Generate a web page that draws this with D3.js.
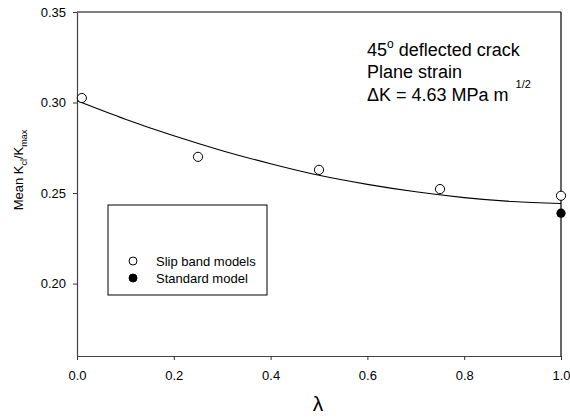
<!DOCTYPE html>
<html>
<head>
<meta charset="utf-8">
<script src="https://cdn.jsdelivr.net/npm/d3@7"></script>
<style>
  body { margin: 0; background: #fff; }
  text { font-family: "Liberation Sans", Arial, sans-serif; }
</style>
</head>
<body>
<div id="chart"></div>
<script>
// data
var lambdaVals = [0.01, 0.25, 0.5, 0.75, 1.0];
var slipBand = [0.3025, 0.270, 0.2628, 0.2522, 0.2485];
var standardX = [1.0];
var standardY = [0.2389];
// fitted curve, read at regular lambda steps
var fitX = [0, 0.1, 0.2, 0.3, 0.4, 0.5, 0.6, 0.7, 0.8, 0.9, 1.0];
var fitY = [0.301, 0.2908, 0.2816, 0.2734, 0.2662, 0.2598, 0.2548, 0.2507, 0.2475, 0.2453, 0.2442];
var xTicks = [0, 0.2, 0.4, 0.6, 0.8, 1.0];
var yTicks = [0.20, 0.25, 0.30, 0.35];
var legendLabels = ["Slip band models", "Standard model"];

var width = 570, height = 418;
// plot area edges
var plotL = 77, plotR = 561, plotT = 12, plotB = 356;

var svg = d3.select("#chart").append("svg")
    .attr("width", width)
    .attr("height", height);

var x = d3.scaleLinear().domain([0, 1]).range([plotL, plotR]);
var y = d3.scaleLinear().domain([0.16, 0.35]).range([plotB, plotT]);

// frame top and right
svg.append("line").attr("x1", plotL).attr("x2", plotR).attr("y1", plotT).attr("y2", plotT)
    .attr("stroke", "#000").attr("stroke-width", 1.2);
svg.append("line").attr("x1", plotR).attr("x2", plotR).attr("y1", plotT).attr("y2", plotB)
    .attr("stroke", "#000").attr("stroke-width", 1.2);

// axes
var xAxis = svg.append("g")
    .attr("transform", "translate(0," + plotB + ")")
    .call(d3.axisBottom(x).tickValues(xTicks).tickFormat(d3.format(".1f")).tickSize(4).tickSizeOuter(0));
var yAxis = svg.append("g")
    .attr("transform", "translate(" + plotL + ",0)")
    .call(d3.axisLeft(y).tickValues(yTicks).tickFormat(d3.format(".2f")).tickSize(4).tickSizeOuter(0));

[xAxis, yAxis].forEach(function(g) {
    g.select(".domain").attr("stroke", "#444").attr("stroke-width", 1.2);
    g.selectAll(".tick line").attr("stroke", "#333");
    g.selectAll(".tick text").attr("font-size", 13)
        .attr("font-family", "Liberation Sans, Arial, sans-serif").attr("fill", "#000");
});
xAxis.selectAll(".tick text").attr("dy", "1.3em");
yAxis.selectAll(".tick text").attr("x", -11);

// fitted curve
var line = d3.line()
    .x(function(d, i) { return x(fitX[i]); })
    .y(function(d) { return y(d); })
    .curve(d3.curveMonotoneX);
svg.append("path")
    .attr("d", line(fitY))
    .attr("fill", "none")
    .attr("stroke", "#000")
    .attr("stroke-width", 1.1);

// slip band points
svg.selectAll(".slip")
    .data(slipBand)
    .enter().append("circle")
    .attr("class", "slip")
    .attr("cx", function(d, i) { return x(lambdaVals[i]); })
    .attr("cy", function(d) { return y(d); })
    .attr("r", 4.6)
    .attr("fill", "#fff")
    .attr("stroke", "#000")
    .attr("stroke-width", 1);

// standard model point
svg.selectAll(".std")
    .data(standardY)
    .enter().append("circle")
    .attr("class", "std")
    .attr("cx", function(d, i) { return x(standardX[i]); })
    .attr("cy", function(d) { return y(d); })
    .attr("r", 4.6)
    .attr("fill", "#000");

// legend
svg.append("rect")
    .attr("x", 108).attr("y", 205).attr("width", 159).attr("height", 90)
    .attr("fill", "#fff").attr("stroke", "#000").attr("stroke-width", 1);
var leg = svg.selectAll(".leg")
    .data(legendLabels)
    .enter().append("g")
    .attr("transform", function(d, i) { return "translate(133," + (261 + i * 17) + ")"; });
leg.append("circle")
    .attr("r", 4)
    .attr("fill", function(d, i) { return i == 0 ? "#fff" : "#000"; })
    .attr("stroke", "#000");
leg.append("text")
    .attr("x", 23).attr("y", 5)
    .attr("font-size", 13)
    .text(function(d) { return d; });

// annotation
var note = svg.append("g").attr("font-size", 18);
var t1 = note.append("text").attr("x", 367).attr("y", 56);
t1.append("tspan").text("45");
t1.append("tspan").attr("font-size", 12).attr("dy", -8).text("o");
t1.append("tspan").attr("dy", 8).text(" deflected crack");
note.append("text").attr("x", 367).attr("y", 78).text("Plane strain");
var t3 = note.append("text").attr("x", 367).attr("y", 101);
t3.append("tspan").text("\u0394K = 4.63 MPa m ");
t3.append("tspan").attr("font-size", 11).attr("dy", -13).attr("dx", 2).text("1/2");

// axis titles
svg.append("text")
    .attr("x", 318).attr("y", 411)
    .attr("text-anchor", "middle")
    .attr("font-size", 21)
    .text("\u03bb");

var yl = svg.append("text")
    .attr("transform", "translate(23,170) rotate(-90)")
    .attr("text-anchor", "middle")
    .attr("font-size", 13);
yl.append("tspan").text("Mean K");
yl.append("tspan").attr("font-size", 9).attr("dy", 4).text("cl");
yl.append("tspan").attr("dy", -4).text("/K");
yl.append("tspan").attr("font-size", 9).attr("dy", 4).text("max");
</script>
</body>
</html>
